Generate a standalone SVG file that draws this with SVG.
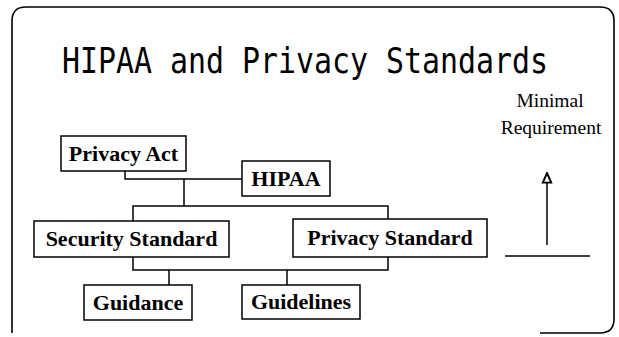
<svg xmlns="http://www.w3.org/2000/svg" width="619" height="337" viewBox="0 0 619 337">
<defs>
<style>
.box{fill:#fff;stroke:#000;stroke-width:1.5}
.lbl{font-family:"Liberation Serif","Times New Roman",serif;font-weight:bold;font-size:22px;fill:#000;text-anchor:middle}
.req{font-family:"Liberation Serif","Times New Roman",serif;font-size:19.5px;fill:#000;text-anchor:middle}
.ln{fill:none;stroke:#000;stroke-width:1.5}
</style>
<marker id="ah" markerWidth="12" markerHeight="12" refX="9" refY="5" orient="auto" markerUnits="userSpaceOnUse" viewBox="0 0 10 10">
<path d="M1,1.5 L9,5 L1,8.5 Z" fill="#fff" stroke="#000" stroke-width="1.6"/>
</marker>
</defs>
<rect width="619" height="337" fill="#fff"/>
<path id="frame" d="M12,333 L12,21 Q12,7 26,7 L600,7 Q614,7 614,21 L614,319 Q614,333 600,333 L540,333" fill="none" stroke="#000" stroke-width="1.6"/>
<text transform="translate(62,73) scale(1,1.17)" x="0" y="0" font-family="'DejaVu Sans Mono',monospace" font-size="30" textLength="486" lengthAdjust="spacingAndGlyphs">HIPAA and Privacy Standards</text>
<g id="connectors">
<polyline class="ln" points="125,171 125,179 242,179"/>
<polyline class="ln" points="184,179 184,206"/>
<polyline class="ln" points="133,221 133,206 388,206 388,219"/>
<polyline class="ln" points="133,257 133,270 388,270 388,257"/>
<line class="ln" x1="169" y1="270" x2="169" y2="285"/>
<line class="ln" x1="287" y1="270" x2="287" y2="285"/>
</g>
<g id="privacy-act"><rect class="box" x="61" y="136" width="125" height="35"/><text class="lbl" x="123.5" y="161">Privacy Act</text></g>
<g id="hipaa"><rect class="box" x="242" y="161" width="88" height="35"/><text class="lbl" x="286" y="186">HIPAA</text></g>
<g id="security-standard"><rect class="box" x="34" y="221" width="195" height="36"/><text class="lbl" x="131.5" y="246">Security Standard</text></g>
<g id="privacy-standard"><rect class="box" x="293" y="219" width="194" height="38"/><text class="lbl" x="390" y="245">Privacy Standard</text></g>
<g id="guidance"><rect class="box" x="84" y="285" width="108" height="35"/><text class="lbl" x="138" y="310">Guidance</text></g>
<g id="guidelines"><rect class="box" x="242" y="285" width="118" height="34"/><text class="lbl" x="301" y="309">Guidelines</text></g>
<g id="minimal-requirement">
<text class="req" x="550" y="107">Minimal</text>
<text class="req" x="551" y="134">Requirement</text>
<line class="ln" x1="547" y1="245" x2="547" y2="173" stroke-width="2.2" marker-end="url(#ah)"/>
<line class="ln" x1="505" y1="256" x2="590" y2="256"/>
</g>
</svg>
